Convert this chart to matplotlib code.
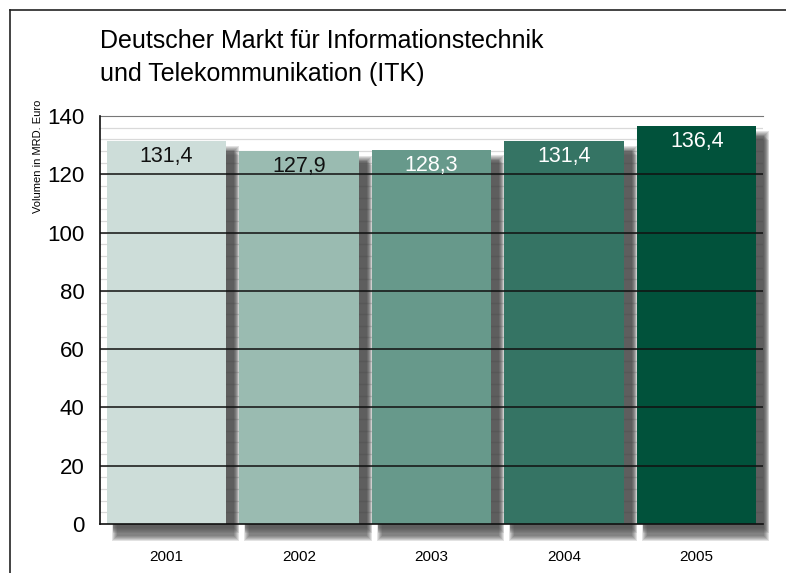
import numpy as np
import matplotlib.pyplot as plt
from matplotlib.patches import Rectangle
from matplotlib.lines import Line2D

plt.rcParams['font.family'] = ['Liberation Sans', 'DejaVu Sans']

years = ['2001', '2002', '2003', '2004', '2005']
values = [131.4, 127.9, 128.3, 131.4, 136.4]
labels = ['131,4', '127,9', '128,3', '131,4', '136,4']
colors = ['#cdddd9', '#9abbb1', '#67998b', '#357464', '#01523b']
text_colors = ['#111111', '#111111', 'white', 'white', 'white']

fig = plt.figure(figsize=(7.86, 5.73), dpi=100)
W, H = 786, 573
ax = fig.add_axes([100 / W, 1 - 524 / H, 663 / W, 408 / H])

x = np.arange(len(years))
bw = 0.9

# minor grid every 4 units (behind everything)
for v in np.arange(4, 140, 4):
    ax.axhline(v, color='#d9d9d9', lw=0.9, zorder=0)

# soft shadows
px_x = 1 / 133.0
px_y = 140 / 408.0
for xi, v in zip(x, values):
    for k in range(6):
        grow = k * 1.0
        r = Rectangle((xi - bw / 2 + (10 - grow) * px_x, -(12 + grow) * px_y),
                      bw + (-2 + 2 * grow) * px_x, v + (12 + grow) * px_y - (10 - grow) * px_y,
                      facecolor='#333333', alpha=0.14, lw=0, zorder=1, clip_on=False)
        ax.add_patch(r)
        r = Rectangle((xi - bw / 2 + 6 * px_x, -(4 + grow) * px_y),
                      bw + (2 + grow) * px_x, v - 5 * px_y,
                      facecolor='#4a4a4a', alpha=0.13, lw=0, zorder=1, clip_on=False)
        ax.add_patch(r)

ax.bar(x, values, width=bw, color=colors, zorder=2)

for v in range(20, 140, 20):
    ax.axhline(v, color='#111111', lw=1.1, zorder=3)

for xi, v, lab, tc in zip(x, values, labels, text_colors):
    ax.text(xi, v - 1.6, lab, ha='center', va='top', fontsize=15.5, color=tc, zorder=4)

ax.set_xlim(-0.5, 4.5)
ax.set_ylim(0, 140)
ax.set_yticks(range(0, 141, 20))
ax.tick_params(axis='y', length=0, labelsize=16, pad=11)
ax.set_xticks(x)
ax.set_xticklabels(years)
ax.tick_params(axis='x', length=0, labelsize=11, pad=19)
ax.spines['right'].set_visible(False)
ax.spines['top'].set_color('#777777')
ax.spines['left'].set_color('#111111')
ax.spines['bottom'].set_color('#111111')
ax.spines['left'].set_linewidth(1.2)
ax.spines['bottom'].set_linewidth(1.2)
ax.spines['left'].set_zorder(5)
ax.spines['bottom'].set_zorder(5)

fig.text(100 / W, 1 - 48 / H, 'Deutscher Markt für Informationstechnik',
         fontsize=18, ha='left', va='baseline')
fig.text(100 / W, 1 - 81 / H, 'und Telekommunikation (ITK)',
         fontsize=18, ha='left', va='baseline')
fig.text(38 / W, 1 - 156 / H, 'Volumen in MRD. Euro', rotation=90, fontsize=8,
         ha='center', va='center')

# frame
fig.add_artist(Line2D([10 / W, 10 / W], [0, 1 - 10 / H], color='#222222', lw=1.2))
fig.add_artist(Line2D([10 / W, 1], [1 - 10 / H, 1 - 10 / H], color='#222222', lw=1.2))

fig.savefig('out.png', dpi=100)
